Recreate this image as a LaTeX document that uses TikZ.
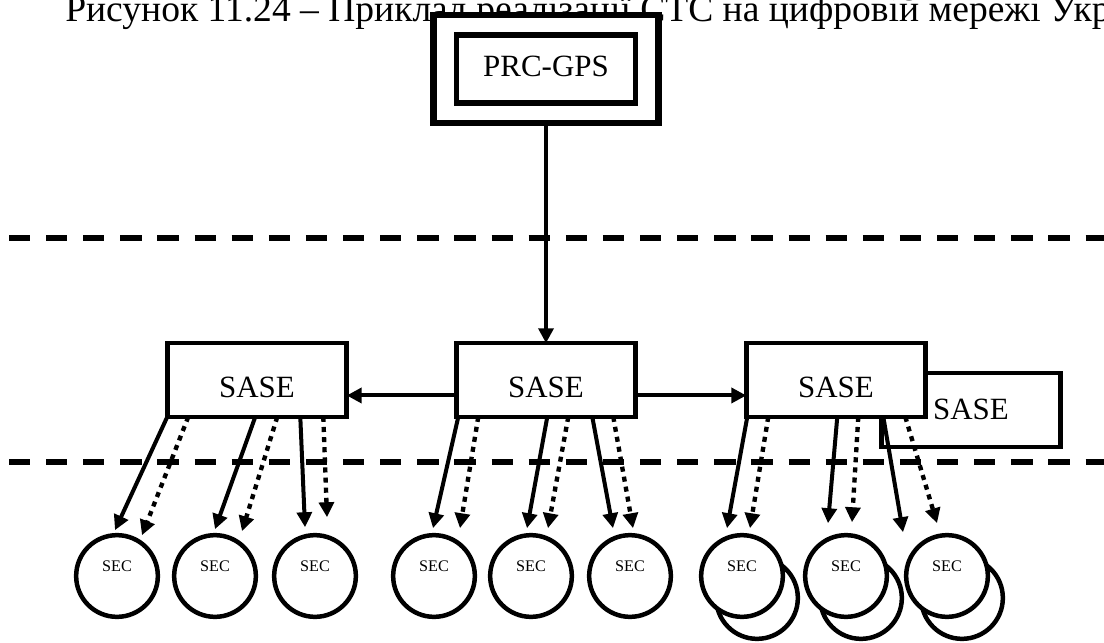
\documentclass[tikz,border=0pt]{standalone}
\usepackage{fontspec}
\setmainfont{Liberation Serif}
\usetikzlibrary{arrows.meta, positioning, calc}
\tikzset{
  sasebox/.style={draw, fill=white, line width=3.2pt, inner sep=0pt, outer sep=0pt,
                  minimum width=127.6pt, minimum height=52.4pt,
                  text height=#1, text depth=0pt,
                  font=\fontsize{22}{26}\selectfont},
  sasebox/.default=25.5pt,
  gpsframe/.style={draw, fill=white, line width=4.6pt, inner sep=0pt, outer sep=0pt,
                   minimum width=160.2pt, minimum height=76.5pt},
  gpsbox/.style={draw, fill=white, line width=3.9pt, inner sep=0pt, outer sep=0pt,
                 minimum width=127.6pt, minimum height=48.2pt,
                 text height=11.3pt, text depth=0pt,
                 font=\fontsize{22}{26}\selectfont},
  sec/.style={circle, draw, fill=white, line width=3.2pt, inner sep=0pt, outer sep=0pt,
              minimum size=58.1pt, text height=0pt, text depth=7.1pt,
              font=\fontsize{11.5}{13}\selectfont},
  sepline/.style={line width=4pt, dash pattern=on 15.1pt off 11.3pt},
  arr/.style={-{Triangle[length=10.6pt, width=10.6pt]}, line width=2.85pt},
  darr/.style={arr, line width=3.1pt, dash pattern=on 3.6pt off 3.6pt},
}

\begin{document}
\begin{tikzpicture}[x=0.025cm, y=-0.025cm]
  \useasboundingbox (0,0) rectangle (1104,643);
  \clip (0,0) rectangle (1104,643);

  \node[anchor=base west, inner sep=0pt, font=\fontsize{26.7}{30}\selectfont] (title) at (65,22)
    {Рисунок 11.24 – Приклад реалізації СТС на цифровій мережі Укр};

  % level boundaries
  \draw[sepline] (9,238) -- (1104,238);
  \draw[sepline] (9,462) -- (1104,462);

  \node[gpsframe] (frame) at (546,69) {};
  \node[gpsbox]   (gps)   at (546,69) {PRC-GPS};

  \node[sasebox=13.5pt] (sase4) at (971,410) {SASE};
  \node[sasebox] (sase1) at (257,380) {SASE};
  \node[sasebox] (sase2) at (546,380) {SASE};
  \node[sasebox] (sase3) at (836,380) {SASE};

  % doubled stations
  \node[sec] (sec7b) at (757,598) {};
  \node[sec] (sec8b) at (861,598) {};
  \node[sec] (sec9b) at (962,598) {};

  \node[sec] (sec1) at (117,576) {SEC};
  \node[sec] (sec2) at (215,576) {SEC};
  \node[sec] (sec3) at (315,576) {SEC};
  \node[sec] (sec4) at (434,576) {SEC};
  \node[sec] (sec5) at (531,576) {SEC};
  \node[sec] (sec6) at (630,576) {SEC};
  \node[sec] (sec7) at (742,576) {SEC};
  \node[sec] (sec8) at (846,576) {SEC};
  \node[sec] (sec9) at (947,576) {SEC};

  \draw[arr] (frame.south) -- (sase2.north);
  \draw[arr] ([yshift=-11pt]sase2.west) -- ([yshift=-11pt]sase1.east);
  \draw[arr] ([yshift=-11pt]sase2.east) -- ([yshift=-11pt]sase3.west);

  % left group
  \draw[arr]  (sase1.south west)             -- ($(sec1.north)+(-2,-5)$);
  \draw[darr] ($(sase1.south west)+(21,0)$)  -- ($(sec1.north)+(25,0)$);
  \draw[arr]  ($(sase1.south west)+(88,0)$)  -- ($(sec2.north)+(0,-6)$);
  \draw[darr] ($(sase1.south west)+(110,0)$) -- ($(sec2.north)+(27,-4)$);
  \draw[arr]  ($(sase1.south west)+(133,0)$) -- ($(sec3.north)+(-10,-8)$);
  \draw[darr] ($(sase1.south west)+(156,0)$) -- ($(sec3.north)+(12,-18)$);

  % middle group
  \draw[arr]  ($(sase2.south west)+(2,0)$)   -- ($(sec4.north)+(-1,-7)$);
  \draw[darr] ($(sase2.south west)+(22,0)$)  -- ($(sec4.north)+(26,-7)$);
  \draw[arr]  ($(sase2.south west)+(91,0)$)  -- ($(sec5.north)+(-4,-7)$);
  \draw[darr] ($(sase2.south west)+(112,0)$) -- ($(sec5.north)+(17,-7)$);
  \draw[arr]  ($(sase2.south west)+(136,0)$) -- ($(sec6.north)+(-17,-7)$);
  \draw[darr] ($(sase2.south west)+(157,0)$) -- ($(sec6.north)+(3,-7)$);

  % right group
  \draw[arr]  ($(sase3.south west)+(1,0)$)   -- ($(sec7.north)+(-15,-7)$);
  \draw[darr] ($(sase3.south west)+(22,0)$)  -- ($(sec7.north)+(8,-7)$);
  \draw[arr]  ($(sase3.south west)+(91,0)$)  -- ($(sec8.north)+(-18,-12)$);
  \draw[darr] ($(sase3.south west)+(112,0)$) -- ($(sec8.north)+(6,-13)$);
  \draw[arr]  ($(sase3.south west)+(137,0)$) -- ($(sec9.north)+(-44,-3)$);
  \draw[darr] ($(sase3.south west)+(159,0)$) -- ($(sec9.north)+(-10,-12)$);
\end{tikzpicture}
\end{document}
